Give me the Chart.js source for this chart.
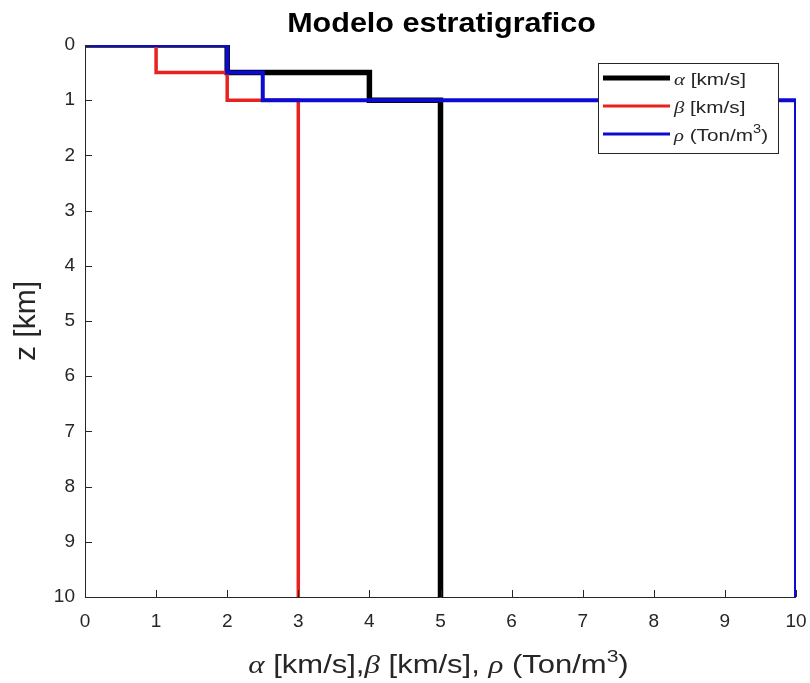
<!DOCTYPE html>
<html lang="es">
<head>
<meta charset="UTF-8" />
<title>Modelo estratigrafico</title>
<style>
  body { margin: 0; background: #fff; }
  #wrap { width: 810px; height: 683px; }
</style>
</head>
<body>
<div id="wrap"><canvas id="chart" width="810" height="683"></canvas></div>
<script src="https://cdn.jsdelivr.net/npm/chart.js"></script>
<script>
// layer boundaries (depth in km) and the value of each layer
var depthBounds = [0, 0.5, 1, 10];
var alphaVals = [2, 4, 5];    // alpha [km/s]
var betaVals = [1, 2, 3];     // beta [km/s]
var rhoVals = [2, 2.5, 10];   // rho (Ton/m3)
var xTicks = [0, 1, 2, 3, 4, 5, 6, 7, 8, 9, 10];
var zTicks = [0, 1, 2, 3, 4, 5, 6, 7, 8, 9, 10];

var SANS = '"Liberation Sans", Arial, sans-serif';
var SERIF = '"Liberation Serif", "Times New Roman", serif';
var AXIS_COLOR = "#262626";

// staircase profile: start at (0, top) then each layer as a vertical segment
function stairs(vals) {
  var pts = [{ x: 0, y: depthBounds[0] }];
  for (var i = 0; i < vals.length; i++) {
    pts.push({ x: vals[i], y: depthBounds[i] });
    pts.push({ x: vals[i], y: depthBounds[i + 1] });
  }
  return pts;
}

// text with greek letters (italic serif) and superscripts, sx = horizontal stretch
function drawRich(ctx, parts, x, y, size, align, sx) {
  function font(p) {
    if (p.greek) return "italic " + size + "px " + SERIF;
    if (p.sup) return Math.round(size * 0.68) + "px " + SANS;
    return size + "px " + SANS;
  }
  var w = 0;
  parts.forEach(function (p) {
    ctx.font = font(p);
    w += ctx.measureText(p.t).width;
  });
  ctx.save();
  ctx.translate(align === "center" ? x - (w * sx) / 2 : x, y);
  ctx.scale(sx, 1);
  ctx.textAlign = "left";
  ctx.textBaseline = "alphabetic";
  var cx = 0;
  parts.forEach(function (p) {
    ctx.font = font(p);
    ctx.fillText(p.t, cx, p.sup ? -size * 0.45 : 0);
    cx += ctx.measureText(p.t).width;
  });
  ctx.restore();
}

var legendParts = [
  [{ t: "\u03B1", greek: true }, { t: " [km/s]" }],
  [{ t: "\u03B2", greek: true }, { t: " [km/s]" }],
  [{ t: "\u03C1", greek: true }, { t: " (Ton/m" }, { t: "3", sup: true }, { t: ")" }]
];
var xTitleParts = [
  { t: "\u03B1", greek: true }, { t: " [km/s]," },
  { t: "\u03B2", greek: true }, { t: " [km/s], " },
  { t: "\u03C1", greek: true }, { t: " (Ton/m" }, { t: "3", sup: true }, { t: ")" }
];

var decorPlugin = {
  id: "decor",
  afterDatasetsDraw: function (chart) {
    var ctx = chart.ctx;
    var a = chart.chartArea;
    var xs = chart.scales.x;
    var ys = chart.scales.y;
    ctx.save();
    // axes lines, ticks pointing inward
    ctx.strokeStyle = AXIS_COLOR;
    ctx.lineWidth = 1;
    ctx.beginPath();
    ctx.moveTo(a.left + 0.5, a.top);
    ctx.lineTo(a.left + 0.5, a.bottom + 0.5);
    ctx.lineTo(a.right, a.bottom + 0.5);
    xTicks.forEach(function (v) {
      var px = Math.round(xs.getPixelForValue(v)) + 0.5;
      ctx.moveTo(px, a.bottom);
      ctx.lineTo(px, a.bottom - 7);
    });
    zTicks.forEach(function (v) {
      var py = Math.round(ys.getPixelForValue(v)) + 0.5;
      ctx.moveTo(a.left, py);
      ctx.lineTo(a.left + 7, py);
    });
    ctx.stroke();

    // legend box
    var lx = 598, ly = 63, lw = 180, lh = 90;
    ctx.fillStyle = "#fff";
    ctx.fillRect(lx, ly, lw, lh);
    ctx.strokeStyle = AXIS_COLOR;
    ctx.strokeRect(lx + 0.5, ly + 0.5, lw, lh);
    var rows = [78, 106, 134];
    chart.data.datasets.forEach(function (ds, i) {
      ctx.strokeStyle = ds.borderColor;
      ctx.lineWidth = i === 0 ? 5 : 3;
      ctx.beginPath();
      ctx.moveTo(lx + 5, rows[i]);
      ctx.lineTo(lx + 72, rows[i]);
      ctx.stroke();
      ctx.fillStyle = AXIS_COLOR;
      drawRich(ctx, legendParts[i], lx + 76, rows[i] + 7, 17, "left", 1.22);
    });

    // titles
    var cxm = (a.left + a.right) / 2;
    ctx.save();
    ctx.fillStyle = "#000";
    ctx.font = "bold 28px " + SANS;
    ctx.textAlign = "center";
    ctx.textBaseline = "alphabetic";
    ctx.translate(cxm + 1, 32);
    ctx.scale(1.09, 1);
    ctx.fillText("Modelo estratigrafico", 0, 0);
    ctx.restore();

    ctx.fillStyle = AXIS_COLOR;
    drawRich(ctx, xTitleParts, cxm - 2, 673, 25, "center", 1.24);

    ctx.translate(35, (a.top + a.bottom) / 2);
    ctx.rotate(-Math.PI / 2);
    ctx.font = "30px " + SANS;
    ctx.textAlign = "center";
    ctx.textBaseline = "alphabetic";
    ctx.fillText("z [km]", 0, 0);
    ctx.restore();
  }
};

new Chart(document.getElementById("chart"), {
  type: "scatter",
  data: {
    datasets: [
      { label: "alpha", data: stairs(alphaVals), borderColor: "#000000", borderWidth: 5.5, order: 3 },
      { label: "beta", data: stairs(betaVals), borderColor: "#e8231f", borderWidth: 3.5, order: 2 },
      { label: "rho", data: stairs(rhoVals), borderColor: "#0c0cd0", borderWidth: 4, order: 1 }
    ].map(function (d) {
      d.showLine = true;
      d.pointRadius = 0;
      d.fill = false;
      d.borderJoinStyle = "miter";
      d.borderCapStyle = "butt";
      return d;
    })
  },
  options: {
    responsive: false,
    animation: false,
    layout: { padding: { top: 45, right: 14, left: 0, bottom: 0 } },
    plugins: {
      legend: { display: false },
      title: { display: false },
      tooltip: { enabled: false }
    },
    scales: {
      x: {
        type: "linear",
        min: 0,
        max: 10,
        grid: { display: false, drawTicks: false },
        border: { display: false },
        afterBuildTicks: function (s) { s.ticks = xTicks.map(function (v) { return { value: v }; }); },
        ticks: { color: AXIS_COLOR, font: { size: 19, family: SANS }, padding: 13, maxRotation: 0 },
        afterFit: function (s) { s.height = 86; s.paddingLeft = 0; s.paddingRight = 0; }
      },
      y: {
        type: "linear",
        reverse: true,
        min: 0,
        max: 10,
        grid: { display: false, drawTicks: false },
        border: { display: false },
        afterBuildTicks: function (s) { s.ticks = zTicks.map(function (v) { return { value: v }; }); },
        ticks: { color: AXIS_COLOR, font: { size: 19, family: SANS }, padding: 10 },
        afterFit: function (s) { s.width = 85; s.paddingTop = 0; s.paddingBottom = 0; }
      }
    }
  },
  plugins: [decorPlugin]
});
</script>
</body>
</html>
